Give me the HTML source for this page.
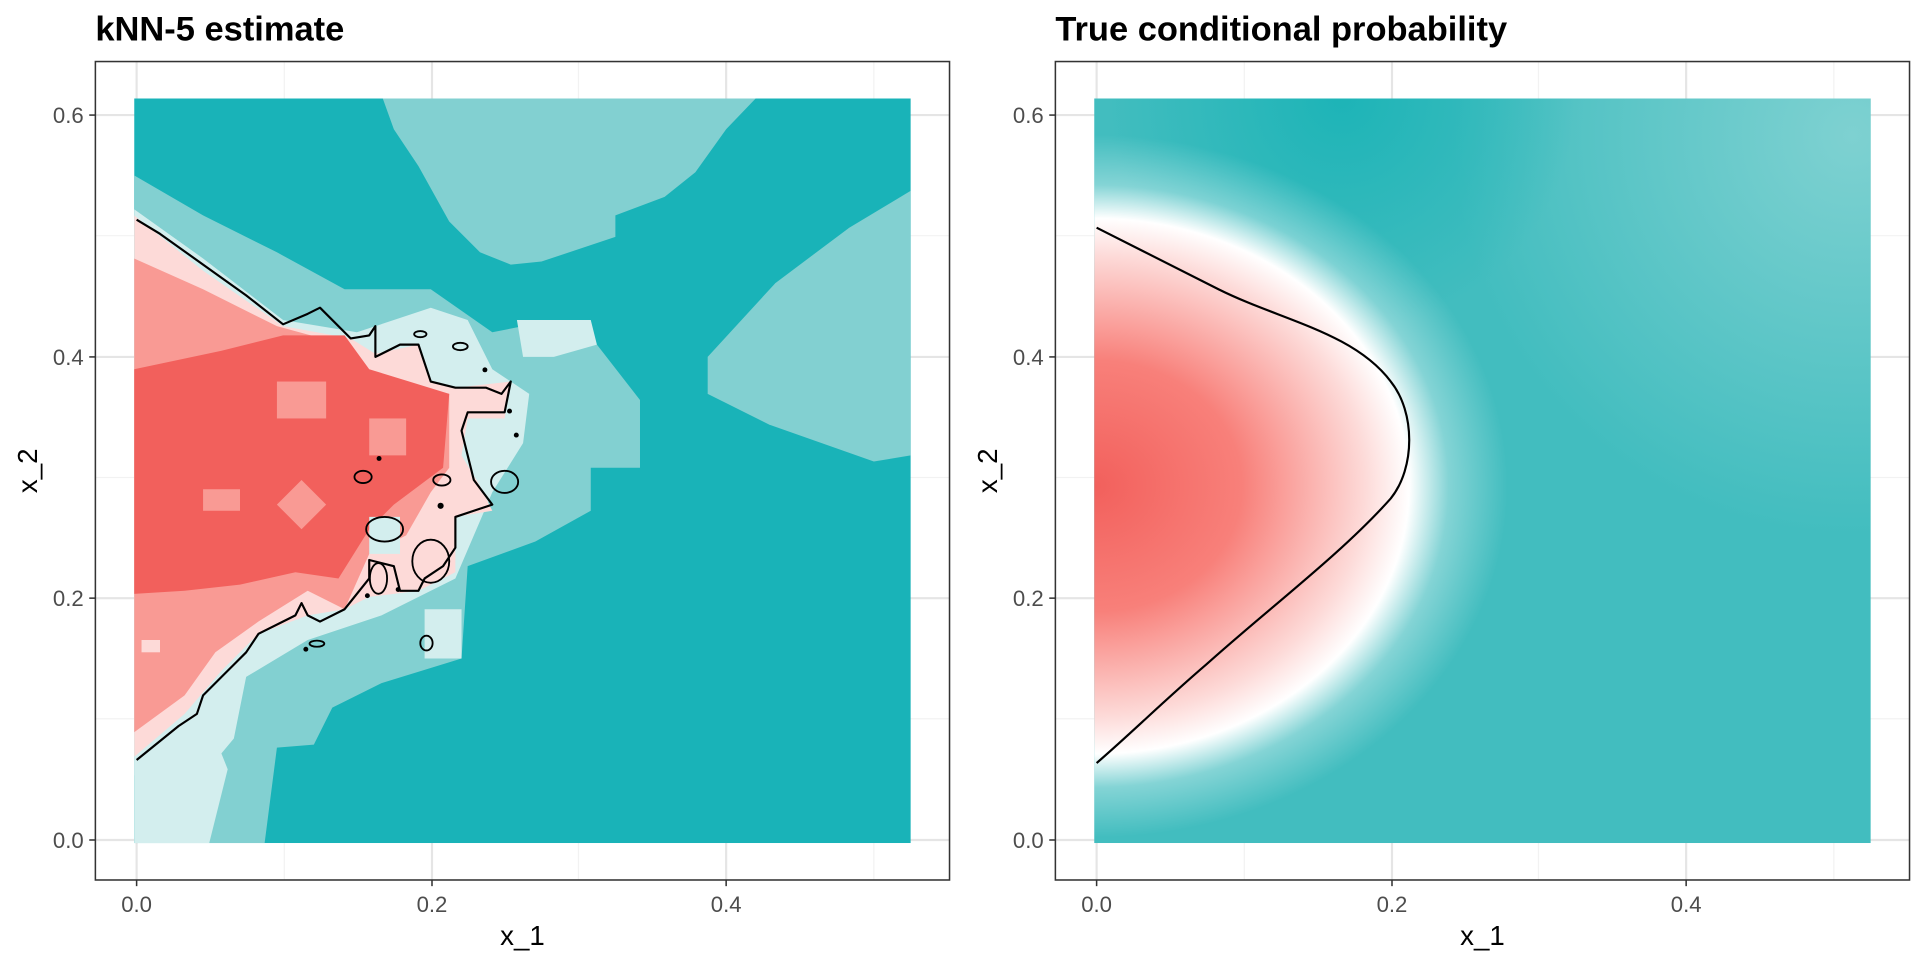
<!DOCTYPE html>
<html><head><meta charset="utf-8"><style>
html,body{margin:0;padding:0;background:#fff;width:1920px;height:960px;overflow:hidden}
svg{display:block}
text{font-family:"Liberation Sans",Arial,sans-serif}
</style></head><body>
<svg width="1920" height="960" viewBox="0 0 1920 960" xmlns="http://www.w3.org/2000/svg">
<defs>
<clipPath id="r"><rect x="218" y="160" width="1262" height="1210"/></clipPath>
<radialGradient id="rg" gradientUnits="userSpaceOnUse" cx="218" cy="790" r="800" gradientTransform="translate(218 790) scale(1 0.85) translate(-218 -790)">
<stop offset="0" stop-color="#F2605C"/>
<stop offset="0.3" stop-color="#F8807A"/>
<stop offset="0.55" stop-color="#FDDAD8"/>
<stop offset="0.64" stop-color="#FFFFFF"/>
<stop offset="0.72" stop-color="#FFFFFF" stop-opacity="0.35"/>
<stop offset="0.84" stop-color="#FFFFFF" stop-opacity="0"/>
</radialGradient>
<radialGradient id="tr" gradientUnits="userSpaceOnUse" cx="1450" cy="220" r="650">
<stop offset="0" stop-color="#7ED1D1"/><stop offset="1" stop-color="#7ED1D1" stop-opacity="0"/>
</radialGradient>
<radialGradient id="tc" gradientUnits="userSpaceOnUse" cx="620" cy="160" r="380">
<stop offset="0" stop-color="#1DB4B7"/><stop offset="1" stop-color="#1DB4B7" stop-opacity="0"/>
</radialGradient>
<g id="frame">
<rect x="155" y="100" width="1388" height="1330" fill="#fff"/>
<g stroke="#F2F2F2" stroke-width="2">
<line x1="462" y1="100" x2="462" y2="1430"/><line x1="940" y1="100" x2="940" y2="1430"/><line x1="1420" y1="100" x2="1420" y2="1430"/>
<line x1="155" y1="1168" x2="1543" y2="1168"/><line x1="155" y1="776" x2="1543" y2="776"/><line x1="155" y1="383" x2="1543" y2="383"/>
</g>
<g stroke="#E5E5E5" stroke-width="3.5">
<line x1="222" y1="100" x2="222" y2="1430"/><line x1="702" y1="100" x2="702" y2="1430"/><line x1="1180" y1="100" x2="1180" y2="1430"/>
<line x1="155" y1="1365" x2="1543" y2="1365"/><line x1="155" y1="972" x2="1543" y2="972"/><line x1="155" y1="580" x2="1543" y2="580"/><line x1="155" y1="187" x2="1543" y2="187"/>
</g>
</g>
<g id="axes">
<rect x="155" y="100" width="1388" height="1330" fill="none" stroke="#333" stroke-width="2.5"/>
<g stroke="#333" stroke-width="2.5">
<line x1="145" y1="1365" x2="155" y2="1365"/><line x1="145" y1="972" x2="155" y2="972"/><line x1="145" y1="580" x2="155" y2="580"/><line x1="145" y1="187" x2="155" y2="187"/>
<line x1="222" y1="1430" x2="222" y2="1440"/><line x1="702" y1="1430" x2="702" y2="1440"/><line x1="1180" y1="1430" x2="1180" y2="1440"/>
</g>
<g fill="#4D4D4D" font-size="36" text-anchor="end">
<text x="136" y="1378">0.0</text><text x="136" y="985">0.2</text><text x="136" y="593">0.4</text><text x="136" y="200">0.6</text>
</g>
<g fill="#4D4D4D" font-size="36" text-anchor="middle">
<text x="222" y="1482">0.0</text><text x="702" y="1482">0.2</text><text x="1180" y="1482">0.4</text>
</g>
<text x="849" y="1536" font-size="45" text-anchor="middle" fill="#000">x_1</text>
<text transform="translate(60 765) rotate(-90)" font-size="45" text-anchor="middle" fill="#000">x_2</text>
</g>
</defs>

<!-- Left panel -->
<g transform="scale(0.61538)">
<use href="#frame"/>
<g clip-path="url(#r)">
<rect x="218" y="160" width="1262" height="1210" fill="#19B3B8"/>
<polygon fill="#82D0D1" points="622,160 1228,160 1180,210 1130,280 1080,320 1000,350 1000,385 880,425 830,430 780,410 730,360 680,270 640,210"/>
<polygon fill="#82D0D1" points="1480,310 1380,370 1260,460 1150,580 1150,640 1250,690 1420,750 1480,740"/>
<polygon fill="#82D0D1" points="218,285 330,350 450,410 560,470 700,470 800,540 900,520 970,560 1040,650 1040,760 960,760 960,830 870,880 760,920 750,1070 620,1110 540,1150 510,1210 450,1215 430,1370 340,1370 218,1370"/>
<polygon fill="#D3EEEE" points="218,340 330,420 460,520 580,540 700,500 760,520 800,600 860,640 850,720 800,800 740,940 620,1000 500,1040 400,1100 380,1200 330,1260 218,1260"/>
<polygon fill="#D3EEEE" points="218,1190 330,1150 370,1250 340,1370 218,1370"/>
<polygon fill="#D3EEEE" points="690,990 750,990 750,1070 690,1070"/>
<polygon fill="#FDDAD8" points="218,350 330,440 460,530 570,550 610,575 680,560 700,620 740,630 830,620 820,680 760,680 750,740 780,790 800,830 740,840 740,930 680,960 600,970 560,990 500,1000 420,1030 360,1090 300,1160 218,1230"/>
<polygon fill="#F99A94" points="218,420 330,470 450,530 560,560 600,620 730,640 730,760 700,800 660,870 600,900 560,990 500,960 420,1010 350,1060 300,1130 218,1190"/>
<polygon fill="#F2605C" points="218,600 360,570 460,545 560,545 600,600 730,640 720,760 640,820 600,860 550,940 480,930 390,950 300,960 218,965"/>
<rect x="330" y="795" width="60" height="35" fill="#F99A94"/>
<rect x="450" y="620" width="80" height="60" fill="#F99A94"/>
<polygon fill="#F99A94" points="490,780 530,820 490,860 450,820"/>
<rect x="600" y="680" width="60" height="60" fill="#F99A94"/>
<rect x="230" y="1040" width="30" height="20" fill="#FDDAD8"/>
<polygon fill="#D3EEEE" points="600,840 650,840 650,900 600,900"/>
<polygon fill="#D3EEEE" points="840,520 960,520 970,560 900,580 850,580"/>
</g>
<polyline fill="none" stroke="#000" stroke-width="3.5" stroke-linejoin="round" points="222,357 260,380 330,430 400,480 460,527 500,510 520,500 570,550 600,545 610,530 610,580 650,560 680,560 700,620 740,630 790,630 815,640 830,620 820,670 760,670 750,700 760,740 770,780 800,820 770,830 740,840 740,890 720,920 690,940 680,960 650,960 640,920 600,910 600,940 560,990 520,1010 500,1000 490,980 480,1000 420,1030 400,1060 380,1080 360,1100 330,1130 320,1160 290,1180 222,1235"/>
<g fill="none" stroke="#000" stroke-width="3">
<ellipse cx="683" cy="543" rx="10" ry="5"/><ellipse cx="748" cy="563" rx="12" ry="6"/><ellipse cx="718" cy="780" rx="14" ry="9"/>
<ellipse cx="590" cy="775" rx="14" ry="10"/><ellipse cx="615" cy="940" rx="14" ry="25"/><ellipse cx="625" cy="860" rx="30" ry="20"/>
<ellipse cx="820" cy="783" rx="22" ry="18"/><ellipse cx="693" cy="1045" rx="10" ry="12"/><ellipse cx="515" cy="1046" rx="12" ry="5"/>
<ellipse cx="700" cy="912" rx="30" ry="35"/>
</g>
<g fill="#000"><circle cx="788" cy="601" r="4"/><circle cx="828" cy="668" r="4"/><circle cx="839" cy="707" r="4"/><circle cx="616" cy="745" r="4"/><circle cx="716" cy="822" r="5"/><circle cx="597" cy="968" r="4"/><circle cx="647" cy="958" r="4"/><circle cx="497" cy="1055" r="4"/></g>
<use href="#axes"/>
<text x="155" y="66" font-size="56" font-weight="bold" fill="#000">kNN-5 estimate</text>
</g>

<!-- Right panel -->
<g transform="translate(960 0) scale(0.61538)">
<use href="#frame"/>
<g clip-path="url(#r)">
<rect x="218" y="160" width="1262" height="1210" fill="#42BDBF"/>
<rect x="218" y="160" width="1262" height="1210" fill="url(#tr)"/>
<rect x="218" y="160" width="1262" height="1210" fill="url(#tc)"/>
<rect x="218" y="160" width="1262" height="1210" fill="url(#rg)"/>
</g>
<path fill="none" stroke="#000" stroke-width="3.5" d="M222,370 C300,410 360,440 420,470 C520,520 640,540 700,620 C740,670 740,760 700,810 C620,900 500,990 400,1080 C330,1140 280,1190 222,1240"/>
<use href="#axes"/>
<text x="155" y="66" font-size="56" font-weight="bold" fill="#000">True conditional probability</text>
</g>
</svg>
</body></html>
